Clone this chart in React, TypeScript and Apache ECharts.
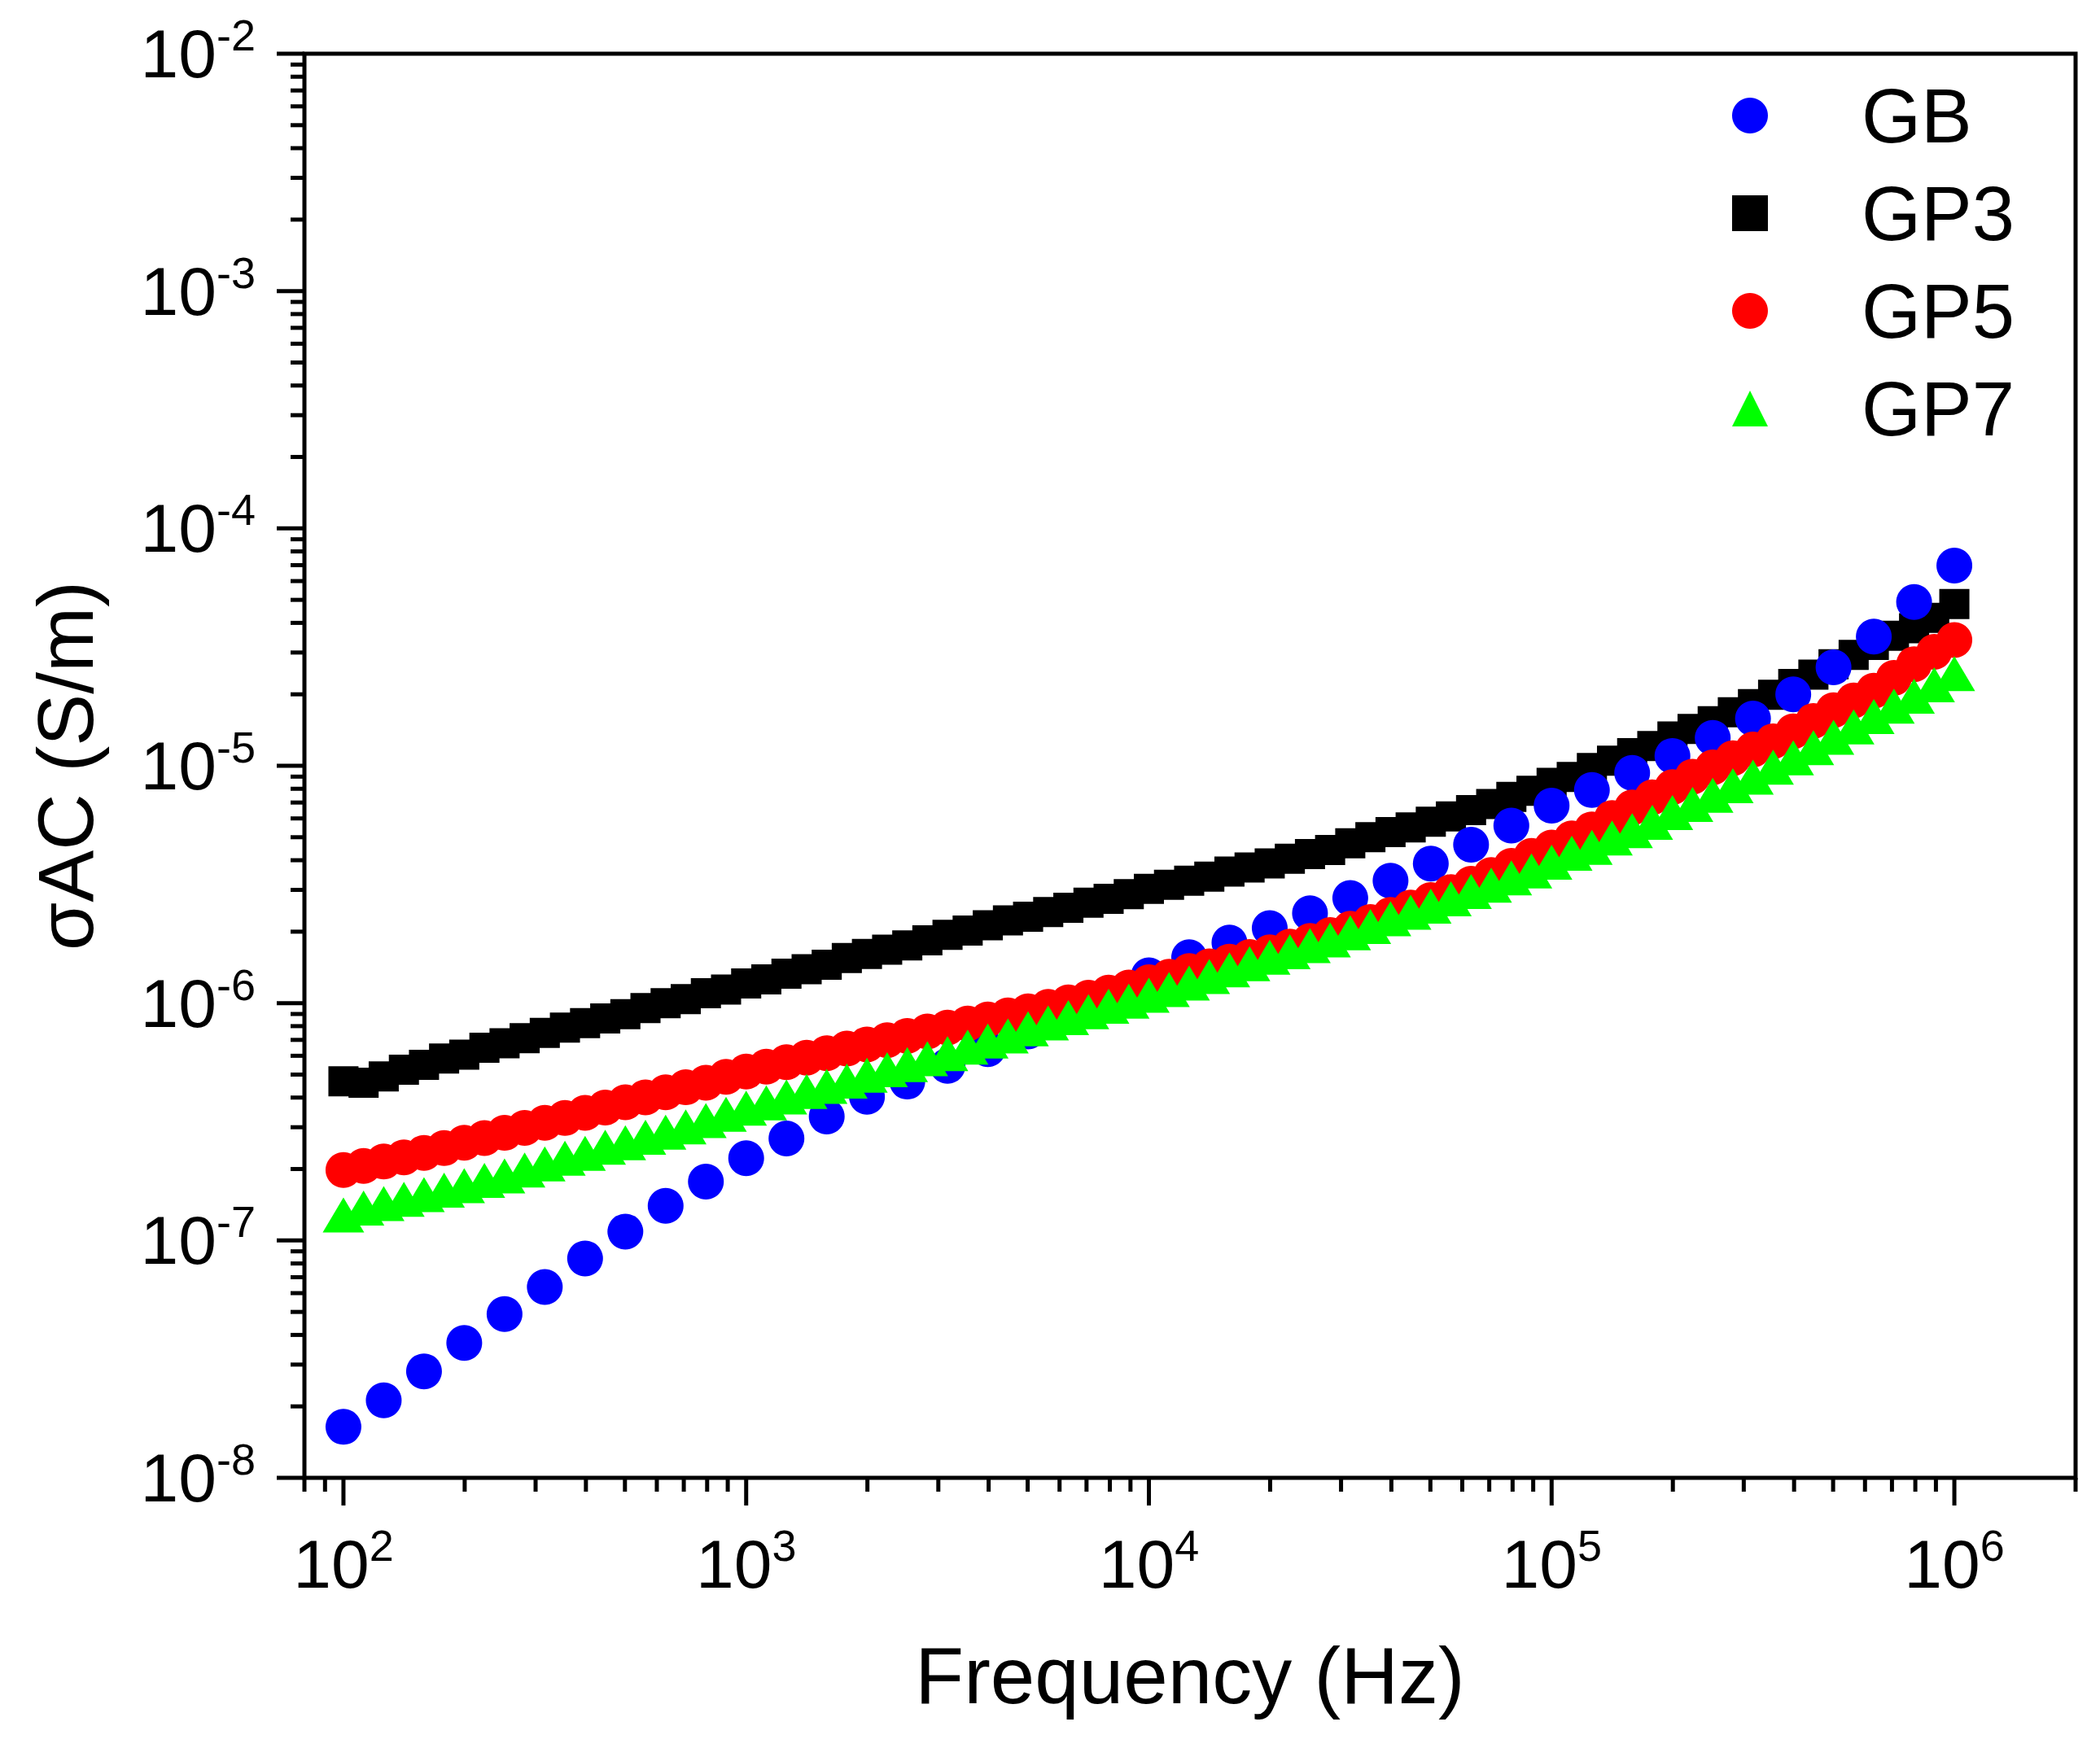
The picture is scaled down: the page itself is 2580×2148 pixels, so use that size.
import React, { useEffect, useRef } from "react";
import * as echarts from "echarts";

const FONT = "'Liberation Sans', Arial, sans-serif";

// Frequencies (Hz)
const freqGB = [
  100, 125.9, 158.5, 199.5, 251.2, 316.2, 398.1, 501.2, 631.0, 794.3,
  1000, 1259, 1585, 1995, 2512, 3162, 3981, 5012, 6310, 7943,
  10000, 12589, 15849, 19953, 25119, 31623, 39811, 50119, 63096, 79433,
  100000, 125893, 158489, 199526, 251189, 316228, 398107, 501187, 630957, 794328,
  1000000,
];
const freqDense = [
  100, 112.2, 125.9, 141.3, 158.5, 177.8, 199.5, 223.9, 251.2, 281.8,
  316.2, 354.8, 398.1, 446.7, 501.2, 562.3, 631.0, 707.9, 794.3, 891.3,
  1000, 1122, 1259, 1413, 1585, 1778, 1995, 2239, 2512, 2818,
  3162, 3548, 3981, 4467, 5012, 5623, 6310, 7079, 7943, 8913,
  10000, 11220, 12589, 14125, 15849, 17783, 19953, 22387, 25119, 28184,
  31623, 35481, 39811, 44668, 50119, 56234, 63096, 70795, 79433, 89125,
  100000, 112202, 125893, 141254, 158489, 177828, 199526, 223872, 251189, 281838,
  316228, 354813, 398107, 446684, 501187, 562341, 630957, 707946, 794328, 891251,
  1000000,
];

// sigma AC (S/m)
const gb = [
  1.64e-8, 2.12e-8, 2.81e-8, 3.7e-8, 4.9e-8, 6.37e-8, 8.4e-8, 1.09e-7, 1.4e-7, 1.77e-7,
  2.22e-7, 2.69e-7, 3.33e-7, 4.03e-7, 4.67e-7, 5.44e-7, 6.4e-7, 7.6e-7, 9.1e-7, 1.1e-6,
  1.31e-6, 1.56e-6, 1.8e-6, 2.07e-6, 2.39e-6, 2.77e-6, 3.28e-6, 3.87e-6, 4.65e-6, 5.6e-6,
  6.79e-6, 7.9e-6, 9.33e-6, 1.1e-5, 1.31e-5, 1.58e-5, 2.0e-5, 2.6e-5, 3.5e-5, 4.9e-5,
  6.97e-5,
];
const gp3 = [
  4.68e-7, 4.62e-7, 4.91e-7, 5.24e-7, 5.5e-7, 5.84e-7, 6.07e-7, 6.48e-7, 6.77e-7, 7.11e-7,
  7.49e-7, 7.89e-7, 8.24e-7, 8.62e-7, 8.98e-7, 9.53e-7, 1.0e-6, 1.04e-6, 1.1e-6, 1.14e-6,
  1.21e-6, 1.26e-6, 1.33e-6, 1.39e-6, 1.45e-6, 1.55e-6, 1.61e-6, 1.68e-6, 1.75e-6, 1.84e-6,
  1.94e-6, 2.02e-6, 2.13e-6, 2.23e-6, 2.31e-6, 2.42e-6, 2.52e-6, 2.65e-6, 2.75e-6, 2.88e-6,
  3.03e-6, 3.15e-6, 3.28e-6, 3.41e-6, 3.58e-6, 3.73e-6, 3.88e-6, 4.06e-6, 4.25e-6, 4.42e-6,
  4.71e-6, 5.0e-6, 5.25e-6, 5.5e-6, 5.81e-6, 6.12e-6, 6.5e-6, 6.9e-6, 7.39e-6, 7.85e-6,
  8.48e-6, 8.98e-6, 9.79e-6, 1.05e-5, 1.13e-5, 1.21e-5, 1.33e-5, 1.43e-5, 1.54e-5, 1.68e-5,
  1.82e-5, 1.99e-5, 2.21e-5, 2.42e-5, 2.68e-5, 2.93e-5, 3.23e-5, 3.53e-5, 3.8e-5, 4.2e-5,
  4.8e-5,
];
const gp5 = [
  1.98e-7, 2.06e-7, 2.15e-7, 2.24e-7, 2.34e-7, 2.45e-7, 2.58e-7, 2.7e-7, 2.84e-7, 2.98e-7,
  3.13e-7, 3.28e-7, 3.45e-7, 3.63e-7, 3.82e-7, 4.01e-7, 4.21e-7, 4.42e-7, 4.62e-7, 4.89e-7,
  5.15e-7, 5.4e-7, 5.64e-7, 5.89e-7, 6.15e-7, 6.43e-7, 6.7e-7, 6.98e-7, 7.28e-7, 7.59e-7,
  7.89e-7, 8.2e-7, 8.53e-7, 8.87e-7, 9.23e-7, 9.64e-7, 1.007e-6, 1.054e-6, 1.107e-6, 1.164e-6,
  1.225e-6, 1.291e-6, 1.365e-6, 1.429e-6, 1.496e-6, 1.563e-6, 1.637e-6, 1.73e-6, 1.828e-6, 1.936e-6,
  2.056e-6, 2.198e-6, 2.355e-6, 2.529e-6, 2.716e-6, 2.938e-6, 3.184e-6, 3.467e-6, 3.784e-6, 4.169e-6,
  4.519e-6, 4.943e-6, 5.395e-6, 6.026e-6, 6.668e-6, 7.362e-6, 8.128e-6, 8.995e-6, 9.84e-6, 1.076e-5,
  1.17e-5, 1.268e-5, 1.396e-5, 1.545e-5, 1.714e-5, 1.884e-5, 2.07e-5, 2.344e-5, 2.679e-5, 3.02e-5,
  3.388e-5,
];
const gp7 = [
  1.28e-7, 1.37e-7, 1.43e-7, 1.49e-7, 1.56e-7, 1.63e-7, 1.7e-7, 1.79e-7, 1.87e-7, 1.98e-7,
  2.1e-7, 2.22e-7, 2.33e-7, 2.47e-7, 2.58e-7, 2.72e-7, 2.86e-7, 3.01e-7, 3.2e-7, 3.4e-7,
  3.61e-7, 3.8e-7, 4.02e-7, 4.24e-7, 4.46e-7, 4.69e-7, 4.97e-7, 5.24e-7, 5.51e-7, 5.83e-7,
  6.12e-7, 6.53e-7, 6.92e-7, 7.28e-7, 7.8e-7, 8.26e-7, 8.69e-7, 9.2e-7, 9.7e-7, 1.019e-6,
  1.079e-6, 1.14e-6, 1.216e-6, 1.294e-6, 1.38e-6, 1.466e-6, 1.56e-6, 1.648e-6, 1.746e-6, 1.845e-6,
  1.977e-6, 2.104e-6, 2.265e-6, 2.415e-6, 2.564e-6, 2.748e-6, 2.951e-6, 3.141e-6, 3.373e-6, 3.606e-6,
  3.926e-6, 4.276e-6, 4.529e-6, 4.966e-6, 5.333e-6, 5.781e-6, 6.353e-6, 6.871e-6, 7.516e-6, 8.241e-6,
  8.954e-6, 9.863e-6, 1.081e-5, 1.191e-5, 1.318e-5, 1.459e-5, 1.611e-5, 1.782e-5, 1.963e-5, 2.193e-5,
  2.443e-5,
];

const seriesNames = ["GB", "GP3", "GP5", "GP7"];

// Axis ranges and tick values
const xMin = 80;
const xMax = 2e6;
const yMin = 1e-8;
const yMax = 1e-2;
const xMajorTicks = [1e2, 1e3, 1e4, 1e5, 1e6];
const yMajorTicks = [1e-8, 1e-7, 1e-6, 1e-5, 1e-4, 1e-3, 1e-2];
const mantissas = [2, 3, 4, 5, 6, 7, 8, 9];
const xMinorTicks = [80, 90, ...[1e2, 1e3, 1e4, 1e5].flatMap((d) => mantissas.map((m) => m * d)), 2e6];
const yMinorTicks = [1e-8, 1e-7, 1e-6, 1e-5, 1e-4, 1e-3].flatMap((d) => mantissas.map((m) => m * d));

const MAJOR_LEN = 34;
const MINOR_LEN = 17;

function powerLabel(v: number) {
  const l = Math.log10(v);
  const e = Math.round(l);
  if (Math.abs(l - e) > 1e-6) return "";
  return `{b|10}{s|${e}}`;
}

const richLabel = {
  b: { fontSize: 84, fontFamily: FONT, color: "#000", lineHeight: 100 },
  s: { fontSize: 54, fontFamily: FONT, color: "#000", lineHeight: 52, verticalAlign: "top" },
};

function tickSeries(data: number[][], dir: "x" | "y") {
  return {
    type: "custom",
    silent: true,
    clip: false,
    z: 10,
    data,
    renderItem: (params: any, api: any) => {
      const p = api.coord([api.value(0), api.value(1)]);
      const len = api.value(2);
      const shape =
        dir === "x"
          ? { x1: p[0], y1: p[1], x2: p[0], y2: p[1] + len }
          : { x1: p[0], y1: p[1], x2: p[0] - len, y2: p[1] };
      return { type: "line", shape, style: { stroke: "#000", lineWidth: 5 } };
    },
  };
}

export default function App() {
  const ref = useRef<HTMLDivElement>(null);
  useEffect(() => {
    if (!ref.current) return;
    const chart = echarts.init(ref.current, undefined, { renderer: "svg" });
    const xTickData = [
      ...xMajorTicks.map((v) => [v, yMin, MAJOR_LEN]),
      ...xMinorTicks.map((v) => [v, yMin, MINOR_LEN]),
    ];
    const yTickData = [
      ...yMajorTicks.map((v) => [xMin, v, MAJOR_LEN]),
      ...yMinorTicks.map((v) => [xMin, v, MINOR_LEN]),
    ];
    chart.setOption({
      animation: false,
      backgroundColor: "#ffffff",
      grid: {
        left: 374,
        right: 30,
        top: 66,
        bottom: 332,
        show: true,
        borderColor: "#000",
        borderWidth: 5,
        backgroundColor: "transparent",
      },
      xAxis: {
        type: "log",
        logBase: 10,
        min: xMin,
        max: xMax,
        splitNumber: 5,
        axisLine: { show: false },
        axisTick: { show: false },
        splitLine: { show: false },
        axisLabel: { margin: 56, formatter: powerLabel, rich: richLabel },
        name: "Frequency (Hz)",
        nameLocation: "middle",
        nameGap: 194,
        nameTextStyle: { fontSize: 98, fontFamily: FONT, color: "#000" },
      },
      yAxis: {
        type: "log",
        logBase: 10,
        min: yMin,
        max: yMax,
        splitNumber: 6,
        axisLine: { show: false },
        axisTick: { show: false },
        splitLine: { show: false },
        axisLabel: { margin: 60, formatter: powerLabel, rich: richLabel },
        name: "σAC (S/m)",
        nameLocation: "middle",
        nameGap: 246,
        nameTextStyle: { fontSize: 96, fontFamily: FONT, color: "#000" },
      },
      legend: {
        orient: "vertical",
        left: 2128,
        top: 92,
        padding: 0,
        itemWidth: 44,
        itemHeight: 44,
        itemGap: 20,
        selectedMode: false,
        data: seriesNames,
        textStyle: {
          fontSize: 94,
          fontFamily: FONT,
          color: "#000",
          lineHeight: 100,
          padding: [0, 0, 0, 110],
        },
      },
      series: [
        {
          name: "GP3",
          type: "scatter",
          symbol: "rect",
          symbolSize: 37,
          itemStyle: { color: "#000000", opacity: 1 },
          emphasis: { disabled: true },
          data: freqDense.map((f, i) => [f, gp3[i]]),
        },
        {
          name: "GB",
          type: "scatter",
          symbol: "circle",
          symbolSize: 44,
          itemStyle: { color: "#0000ff", opacity: 1 },
          emphasis: { disabled: true },
          data: freqGB.map((f, i) => [f, gb[i]]),
        },
        {
          name: "GP5",
          type: "scatter",
          symbol: "circle",
          symbolSize: 44,
          itemStyle: { color: "#ff0000", opacity: 1 },
          emphasis: { disabled: true },
          data: freqDense.map((f, i) => [f, gp5[i]]),
        },
        {
          name: "GP7",
          type: "scatter",
          symbol: "triangle",
          symbolSize: [51, 43],
          itemStyle: { color: "#00ff00", opacity: 1 },
          emphasis: { disabled: true },
          data: freqDense.map((f, i) => [f, gp7[i]]),
        },
        tickSeries(xTickData, "x"),
        tickSeries(yTickData, "y"),
      ],
    });
    return () => chart.dispose();
  }, []);
  return (
    <div
      ref={ref}
      style={{ position: "fixed", left: 0, top: 0, width: 2580, height: 2148, background: "#fff" }}
    />
  );
}
